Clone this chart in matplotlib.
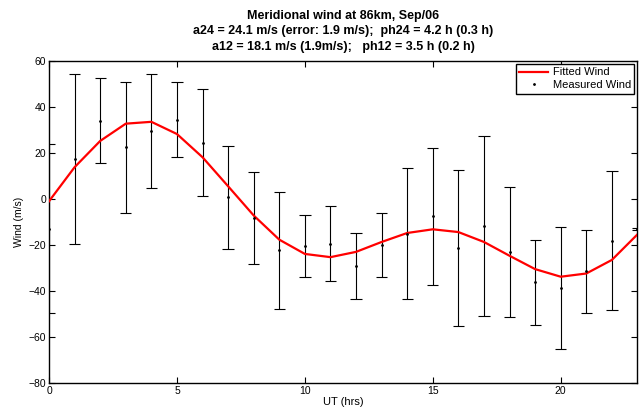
import matplotlib.pyplot as plt
import numpy as np

plt.rcParams["font.family"] = ["Liberation Sans", "DejaVu Sans"]

# hourly measured meridional wind and its error (m/s)
hours = np.arange(24)
measured = [-12.9, 17.4, 34.0, 22.4, 29.4, 34.5, 24.5, 0.7, -8.3, -22.4, -20.4, -19.4,
            -29.2, -20.1, -15.1, -7.6, -21.4, -11.8, -22.9, -36.3, -38.7, -31.4, -18.1, -13.0]
errors = [36.7, 36.9, 18.6, 28.6, 24.8, 16.3, 23.2, 22.5, 19.9, 25.5, 13.5, 16.3,
          14.3, 14.0, 28.4, 29.6, 34.0, 39.0, 28.2, 18.4, 26.3, 18.1, 30.1, 0.5]
# fitted tidal wind at each hour (m/s)
fitted = [-1.0, 13.8, 25.2, 32.7, 33.5, 28.2, 18.1, 5.5, -7.2, -17.7, -23.9, -25.3,
          -23.0, -18.7, -14.8, -13.2, -14.4, -18.7, -24.7, -30.5, -33.8, -32.4, -26.5, -15.4]

title = ("Meridional wind at 86km, Sep/06\n"
         "a24 = 24.1 m/s (error: 1.9 m/s);  ph24 = 4.2 h (0.3 h)\n"
         "a12 = 18.1 m/s (1.9m/s);   ph12 = 3.5 h (0.2 h)")

fig = plt.figure(figsize=(6.41, 4.11), dpi=100)
ax = fig.add_axes([0.0765, 0.068, 0.918, 0.784])

meas = np.array(measured)
err = np.array(errors)
ax.errorbar(hours, meas, yerr=err, fmt="none", ecolor="black",
            elinewidth=0.8, capsize=0, zorder=2)
# caps drawn as short lines so they get clipped at the axes edge
cap_half = 0.22
ax.hlines(np.concatenate([meas + err, meas - err]),
          np.concatenate([hours, hours]) - cap_half,
          np.concatenate([hours, hours]) + cap_half,
          color="black", linewidth=0.8, zorder=2)
ax.plot(hours, fitted, color="red", linewidth=1.6, label="Fitted Wind", zorder=3)
ax.plot(hours, measured, linestyle="none", marker=".", markersize=2,
        color="black", label="Measured Wind", zorder=4)

ax.set_xlim(0, 23)
ax.set_ylim(-80, 60)
ax.set_xticks([0, 5, 10, 15, 20])
ax.set_yticks(np.arange(-80, 61, 20))
ax.tick_params(direction="in", top=True, right=True, length=4, width=0.8,
               labelsize=7.5, pad=2)
for s in ax.spines.values():
    s.set_linewidth(1.0)

ax.set_xlabel("UT (hrs)", fontsize=8, labelpad=1)
ax.set_ylabel("Wind (m/s)", fontsize=7.5, labelpad=3)
ax.set_title(title, fontsize=9, fontweight="bold", pad=8, linespacing=1.4)

leg = ax.legend(loc="upper right", fontsize=8, fancybox=False, framealpha=1,
                edgecolor="black", borderaxespad=0.3, borderpad=0.3,
                handlelength=2.6, handletextpad=0.4, labelspacing=0.25)
leg.get_frame().set_linewidth(1.0)

fig.savefig("out.png", dpi=100)
